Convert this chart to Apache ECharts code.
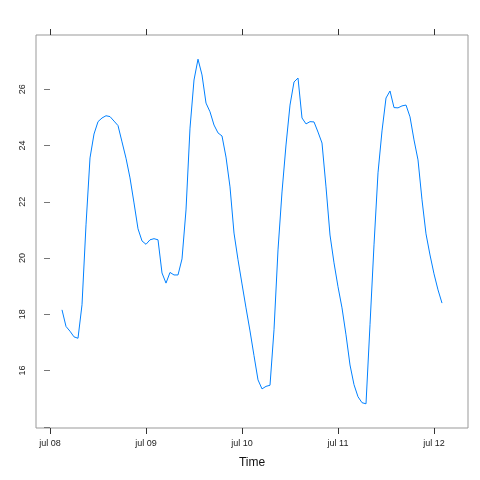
<!DOCTYPE html>
<html>
<head>
<meta charset="utf-8">
<script src="https://cdn.jsdelivr.net/npm/echarts@6/dist/echarts.min.js"></script>
<style>html,body{margin:0;padding:0;background:#fff}#c{width:480px;height:480px}</style>
</head>
<body>
<div id="c"></div>
<script>
// hours since jul 08 00:00 of the first observation; hourly series
const startHour = 3;
const temps = [
  18.16, 17.57, 17.40, 17.20, 17.15, 18.34, 21.18, 23.56, 24.41, 24.85,
  24.98, 25.06, 25.03, 24.87, 24.71, 24.13, 23.55, 22.85, 21.96, 21.04,
  20.61, 20.49, 20.65, 20.69, 20.65, 19.47, 19.11, 19.49, 19.40, 19.40,
  19.97, 21.71, 24.62, 26.33, 27.07, 26.51, 25.51, 25.20, 24.73, 24.45,
  24.34, 23.59, 22.53, 20.89, 19.94, 19.08, 18.23, 17.41, 16.53, 15.67,
  15.35, 15.44, 15.48, 17.45, 20.29, 22.35, 24.02, 25.44, 26.26, 26.40,
  24.98, 24.77, 24.85, 24.84, 24.48, 24.09, 22.53, 20.82, 19.83, 18.98,
  18.23, 17.27, 16.20, 15.50, 15.07, 14.86, 14.82, 17.63, 20.47, 23.03,
  24.52, 25.69, 25.94, 25.35, 25.34, 25.41, 25.44, 25.02, 24.20, 23.49,
  22.07, 20.86, 20.11, 19.44, 18.87, 18.40
];
const xTickHours = [0, 24, 48, 72, 96];
const xTickLabels = ['jul 08', 'jul 09', 'jul 10', 'jul 11', 'jul 12'];
const yTicks = [14, 16, 18, 20, 22, 24, 26];
const yLabels = [16, 18, 20, 22, 24, 26];

const seriesData = temps.map((v, i) => [startHour + i, v]);
const labelMap = {};
xTickHours.forEach((h, i) => { labelMap[h] = xTickLabels[i]; });

const chart = echarts.init(document.getElementById('c'), null, {renderer: 'canvas'});
const font = 'Liberation Sans, Arial, sans-serif';
chart.setOption({
  animation: false,
  grid: {left: 36, right: 12, top: 35, bottom: 52, show: true, borderColor: '#999', borderWidth: 1, containLabel: false},
  xAxis: [{
    type: 'value', min: -3.5, max: 104.5, position: 'bottom',
    axisLine: {show: false},
    splitLine: {show: false},
    axisTick: {show: true, length: 6, customValues: xTickHours, lineStyle: {color: '#333'}},
    axisLabel: {show: true, customValues: xTickHours, formatter: v => labelMap[v] || '', fontSize: 9, color: '#222', fontFamily: font, margin: 11},
    name: 'Time', nameLocation: 'middle', nameGap: 29,
    nameTextStyle: {fontSize: 12, color: '#111', fontFamily: font}
  }, {
    type: 'value', min: -3.5, max: 104.5, position: 'top',
    axisLine: {show: false},
    splitLine: {show: false},
    axisTick: {show: true, length: 6, customValues: xTickHours, lineStyle: {color: '#333'}},
    axisLabel: {show: false}
  }],
  yAxis: {
    type: 'value', min: 13.96, max: 27.93,
    axisLine: {show: false},
    splitLine: {show: false},
    axisTick: {show: true, length: 6, customValues: yTicks, lineStyle: {color: '#777'}},
    axisLabel: {show: true, customValues: yLabels, rotate: 90, fontSize: 9, color: '#222', fontFamily: font, margin: 9}
  },
  series: [{
    type: 'line', xAxisIndex: 0, data: seriesData, showSymbol: false, symbol: 'none',
    lineStyle: {color: '#0080ff', width: 1}, itemStyle: {color: '#0080ff'}
  }]
});
</script>
</body>
</html>
